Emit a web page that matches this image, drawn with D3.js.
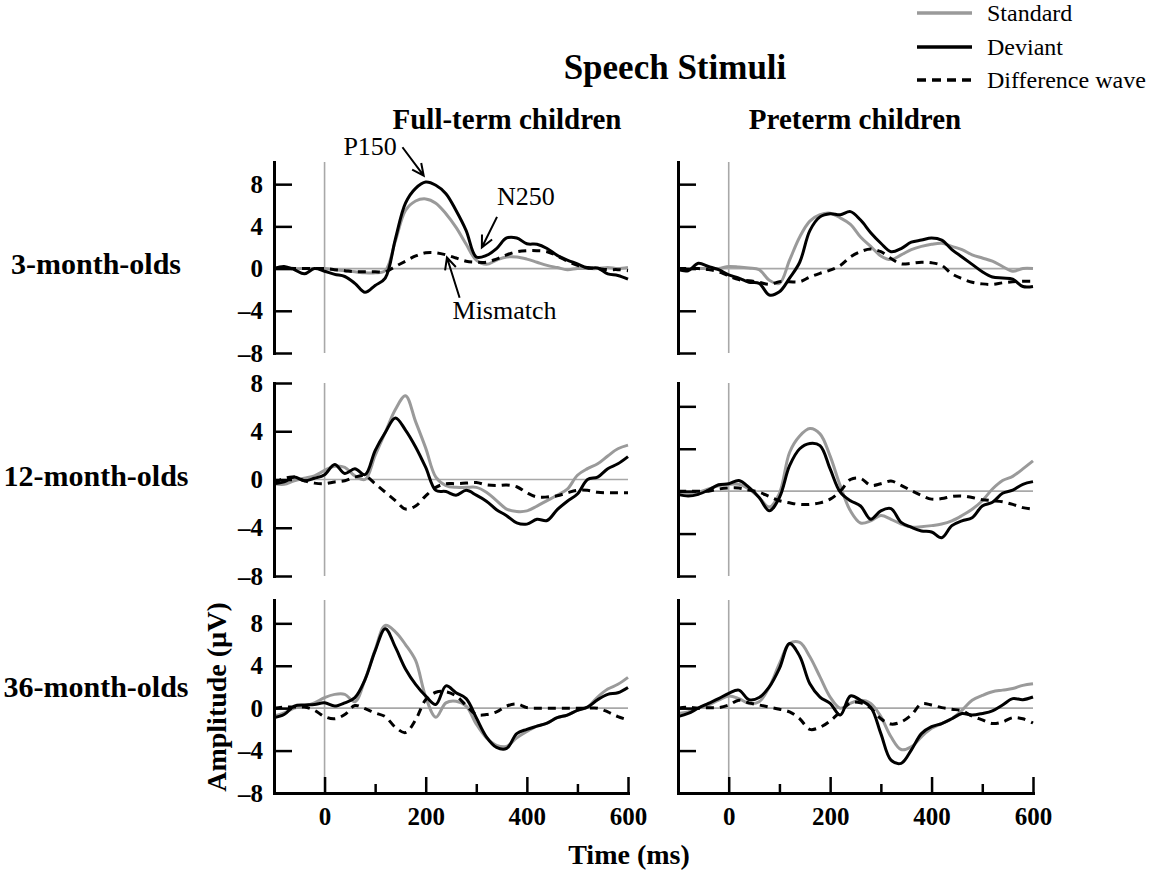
<!DOCTYPE html>
<html>
<head>
<meta charset="utf-8">
<script src="https://cdn.jsdelivr.net/npm/d3@7"></script>
<style>
  body { margin: 0; background: #fff; }
  svg { display: block; }
  text { font-family: 'Liberation Serif', 'Times New Roman', serif; fill: #000; }
</style>
</head>
<body>
<div id="chart"></div>
<script>
// ── Eixos e rótulos ──
const TEMPOS = [-100, -80, -60, -40, -20, 0, 20, 40, 60, 80, 100, 120, 140, 160, 180, 200, 220, 240,
  260, 280, 300, 320, 340, 360, 380, 400, 420, 440, 460, 480, 500, 520, 540, 560, 580, 600];
const LINHAS = ['3-month-olds', '12-month-olds', '36-month-olds'];
const COLUNAS = ['Full-term children', 'Preterm children'];
const Y_TICKS = [-8, -4, 0, 4, 8];
const X_TICKS = [0, 100, 200, 300, 400, 500, 600];
const X_DOMINIO = [-100, 600];
const SERIES = ['Standard', 'Deviant', 'Difference wave'];

// ── Full-term, 3 meses ──
const ft3Std = [0, 0.1, 0, 0, 0, 0, -0.1, -0.2, -0.3, -0.4, -0.4, -0.2, 2.6, 5.5, 6.4, 6.6, 6.2, 5.2,
  3.9, 2.3, 0.8, 0.4, 0.8, 1.1, 1.1, 0.9, 0.6, 0.3, 0.1, -0.1, 0, 0, 0, 0.1, 0, 0.1];
const ft3Dev = [0, 0.2, -0.1, -0.5, 0, -0.25, -0.55, -0.75, -1.4, -2.25, -1.6, -0.9, 2.8, 6.2, 7.6, 8.2, 7.9, 7.1,
  5.5, 3.6, 1.1, 1.25, 1.9, 2.9, 2.9, 2.35, 2.3, 1.9, 1.25, 0.8, 0.45, 0.05, 0.05, -0.5, -0.65, -1.0];
const ft3Dif = [0, 0, 0, 0, 0, 0, -0.1, -0.2, -0.3, -0.3, -0.3, -0.3, 0.2, 0.7, 1.2, 1.5, 1.5, 1.3,
  1.0, 0.7, 0.6, 0.6, 0.9, 1.3, 1.6, 1.7, 1.7, 1.6, 1.2, 0.7, 0.3, 0.1, 0, -0.1, -0.1, -0.2];

// ── Preterm, 3 meses ──
const pt3Std = [0, 0, 0, 0, 0, 0.2, 0.15, 0.05, -0.1, -1.1, -1.4, 0.8, 3.0, 4.5, 5.1, 5.25, 4.8, 4.2,
  3.0, 2.1, 1.2, 0.85, 1.3, 1.8, 2.1, 2.3, 2.4, 2.1, 1.8, 1.3, 1.0, 0.7, 0.2, -0.25, 0, 0];
const pt3Dev = [-0.1, -0.2, 0.5, 0.2, -0.1, -0.6, -0.9, -1.3, -1.4, -2.5, -2.2, -0.9, 0.6, 3.6, 4.9, 5.2, 5.1, 5.4,
  4.6, 3.4, 2.4, 1.6, 1.9, 2.5, 2.7, 2.9, 2.7, 1.8, 1.1, 0.4, -0.3, -0.8, -0.9, -1.0, -1.7, -1.7];
const pt3Dif = [0, 0, 0, -0.1, -0.3, -0.7, -1.05, -1.15, -1.3, -1.5, -1.25, -1.25, -1.25, -0.8, -0.45, -0.15, 0.3, 1.1,
  1.6, 1.85, 1.6, 0.95, 0.45, 0.5, 0.6, 0.55, 0.3, -0.5, -0.95, -1.3, -1.45, -1.5, -1.35, -1.25, -1.2, -1.2];

// ── Full-term, 12 meses ──
const ft12Std = [-0.35, -0.4, -0.1, 0.1, 0.3, 0.75, 1.1, 1.0, 0.3, 0.0, 2.0, 3.9, 5.8, 6.95, 4.8, 2.6, 0.2, -0.5,
  -0.65, -0.65, -0.65, -1.05, -1.75, -2.45, -2.65, -2.6, -2.2, -1.75, -1.3, -0.8, 0.35, 0.9, 1.3, 1.95, 2.55, 2.85];
const ft12Dev = [-0.35, -0.2, 0.2, -0.1, 0.1, 0.4, 1.25, 0.5, 0.9, 0.4, 2.4, 3.9, 5.1, 4.1, 2.7, 1.0, -0.9, -1.0,
  -1.3, -0.9, -1.3, -1.8, -2.5, -3.0, -3.6, -3.7, -3.3, -3.4, -2.5, -1.8, -1.2, 0.0, 0.2, 0.9, 1.3, 1.9];
const ft12Dif = [-0.3, 0.1, 0.2, -0.1, -0.3, -0.35, -0.2, -0.1, 0.2, 0.3, -0.35, -1.05, -1.75, -2.45, -2.2, -1.35, -0.65, -0.35,
  -0.35, -0.3, -0.25, -0.45, -0.5, -0.45, -0.6, -1.1, -1.45, -1.45, -1.35, -1.1, -0.9, -0.9, -1.05, -1.1, -1.1, -1.1];

// ── Preterm, 12 meses ──
const pt12Std = [-0.2, -0.2, -0.1, 0.2, 0.5, 0.65, 0.65, 0.2, -0.6, -1.5, -0.2, 3.65, 5.2, 5.9, 5.4, 3.3, 0.5, -1.85,
  -3.0, -2.8, -2.3, -2.65, -3.1, -3.4, -3.35, -3.25, -3.1, -2.8, -2.3, -1.7, -0.9, 0.2, 1.0, 1.4, 2.1, 2.85];
const pt12Dev = [-0.3, -0.45, -0.3, 0.1, 0.6, 0.7, 1.0, 0.35, -0.6, -1.85, -0.6, 2.4, 4.0, 4.5, 4.3, 2.1, -0.1, -0.9,
  -1.4, -2.65, -1.85, -1.65, -2.95, -3.4, -3.75, -3.85, -4.4, -3.25, -2.8, -2.5, -1.4, -1.05, -0.2, 0.1, 0.65, 0.9];
const pt12Dif = [0, 0, 0, 0, 0.2, 0.3, 0.3, 0.1, -0.1, -0.5, -0.9, -1.1, -1.25, -1.25, -1.1, -0.75, 0.0, 1.1,
  1.2, 0.55, 0.7, 0.95, 0.55, 0.05, -0.4, -0.75, -0.7, -0.5, -0.45, -0.6, -0.8, -0.9, -1.0, -1.25, -1.55, -1.7];

// ── Full-term, 36 meses ──
const ft36Std = [-0.75, -0.45, 0, 0.2, 0.5, 1.0, 1.3, 1.3, 0.6, 2.7, 5.5, 7.8, 7.2, 6.0, 4.5, 1.05, -0.85, 0.5,
  0.65, 0.2, -1.5, -2.8, -3.5, -3.6, -2.8, -2.2, -1.7, -1.4, -0.9, -0.65, -0.2, 0.1, 1.05, 1.8, 2.25, 2.9];
const ft36Dev = [-0.9, -0.6, 0.2, 0.3, 0.35, 0.5, 0.2, 0.5, 1.0, 2.7, 5.4, 7.5, 5.75, 3.7, 2.25, 1.15, 0.35, 2.1,
  1.45, 0.9, -0.9, -2.7, -3.7, -3.8, -2.4, -2.0, -1.7, -1.4, -0.9, -0.65, -0.2, 0.1, 0.8, 1.3, 1.45, 1.95];
const ft36Dif = [0, 0.1, 0.1, 0.1, -0.2, -0.8, -1.0, -0.6, 0.25, -0.05, -0.45, -0.8, -1.8, -2.3, -1.1, 0.8, 1.5, 1.55,
  1.15, 0.25, -0.6, -0.6, -0.35, 0.2, 0.4, 0.05, 0, 0, 0, 0, 0, 0, 0, -0.35, -0.8, -1.1];

// ── Preterm, 36 meses ──
const pt36Std = [-0.5, -0.35, 0, 0.3, 0.75, 1.15, 0.9, 0.45, 0.6, 2.0, 4.2, 6.1, 6.2, 4.85, 2.95, 1.05, 0, 0.45,
  0.75, 0.45, -0.8, -2.7, -3.9, -3.65, -2.7, -1.9, -1.45, -1.0, -0.2, 0.75, 1.2, 1.55, 1.7, 1.85, 2.15, 2.3];
const pt36Dev = [-0.8, -0.5, 0, 0.45, 0.9, 1.4, 1.7, 0.8, 1.0, 2.0, 3.75, 6.1, 4.9, 2.3, 1.05, 0.45, -0.65, 1.15,
  0.75, 0.1, -2.4, -4.9, -5.2, -3.95, -2.4, -1.75, -1.45, -1.0, -0.5, -0.65, -0.5, -0.25, 0.3, 0.9, 0.8, 1.05];
const pt36Dif = [0, 0.1, 0, 0.05, 0.05, 0.3, 0.75, 0.5, 0.3, 0.1, -0.1, -0.35, -1.0, -2.0, -1.8, -1.2, -0.35, 0.5,
  0.5, 0, -1.0, -1.5, -1.3, -0.65, 0.4, 0.3, 0.05, -0.1, -0.25, -0.75, -1.1, -1.45, -1.3, -0.9, -1.0, -1.4];

// ── Anotações do primeiro painel (unidades de dados: ms, µV) ──
const ANOTACOES = [
  { texto: 'P150', pos: [143, 10.76], ancora: 'end', de: [154, 11.5], para: [196, 8.8] },
  { texto: 'N250', pos: [341, 6.0], ancora: 'start', de: [341, 4.9], para: [311, 2.0] },
  { texto: 'Mismatch', pos: [253, -4.76], ancora: 'start', de: [267, -2.76], para: [242, 1.05] },
];

(function () {
  'use strict';

  // ── Paleta ──
  const CORES = {
    padrao: '#9a9a9a',
    desviante: '#000',
    zero: '#a8a8a8',
    eixo: '#000',
  };

  const SERIF = "'Liberation Serif', 'Times New Roman', serif";
  const W = 1153, H = 871;

  // posição dos painéis em px
  const COL_X = [[274, 628], [678, 1033]];
  const ROW_Y = [[162, 353], [383, 576], [600, 793]];

  const PAINEIS = [
    { row: 0, col: 0, topo: 10.1, std: ft3Std, dev: ft3Dev, dif: ft3Dif },
    { row: 0, col: 1, topo: 10.1, std: pt3Std, dev: pt3Dev, dif: pt3Dif },
    { row: 1, col: 0, topo: 8, std: ft12Std, dev: ft12Dev, dif: ft12Dif },
    { row: 1, col: 1, topo: 10.2, std: pt12Std, dev: pt12Dev, dif: pt12Dif },
    { row: 2, col: 0, topo: 10.2, std: ft36Std, dev: ft36Dev, dif: ft36Dif },
    { row: 2, col: 1, topo: 10.2, std: pt36Std, dev: pt36Dev, dif: pt36Dif },
  ];

  const svg = d3.select('#chart').append('svg')
    .attr('width', W)
    .attr('height', H)
    .style('background', '#fff');

  const formatoY = v => (v < 0 ? '\u2013' + Math.abs(v) : String(v));

  PAINEIS.forEach(p => {
    const x = d3.scaleLinear().domain(X_DOMINIO).range(COL_X[p.col]);
    const y = d3.scaleLinear().domain([-8, p.topo]).range([ROW_Y[p.row][1], ROW_Y[p.row][0]]);
    const g = svg.append('g').attr('class', 'painel');

    // linhas de referência (0 µV e 0 ms)
    g.append('line')
      .attr('x1', x(X_DOMINIO[0])).attr('x2', x(X_DOMINIO[1]))
      .attr('y1', y(0)).attr('y2', y(0))
      .style('stroke', CORES.zero).style('stroke-width', 1.6);
    g.append('line')
      .attr('x1', x(0)).attr('x2', x(0))
      .attr('y1', y.range()[0]).attr('y2', y.range()[1])
      .style('stroke', CORES.zero).style('stroke-width', 1.6);

    // ── Séries ──
    const linha = d3.line()
      .x((d, i) => x(TEMPOS[i]))
      .y(d => y(d))
      .curve(d3.curveCatmullRom.alpha(0.5));

    g.append('path').datum(p.std)
      .attr('d', linha)
      .style('fill', 'none').style('stroke', CORES.padrao)
      .style('stroke-width', 3).style('stroke-linejoin', 'round');
    g.append('path').datum(p.dif)
      .attr('d', linha)
      .style('fill', 'none').style('stroke', '#000')
      .style('stroke-width', 3).style('stroke-dasharray', '8,6');
    g.append('path').datum(p.dev)
      .attr('d', linha)
      .style('fill', 'none').style('stroke', CORES.desviante)
      .style('stroke-width', 3).style('stroke-linejoin', 'round');

    // ── Eixo Y (ticks para dentro) ──
    const eixoY = d3.axisRight(y)
      .tickValues(Y_TICKS)
      .tickSizeInner(18)
      .tickSizeOuter(0)
      .tickFormat('');
    const gy = g.append('g')
      .attr('transform', `translate(${x(X_DOMINIO[0])},0)`)
      .call(eixoY);
    gy.select('.domain').style('stroke', CORES.eixo).style('stroke-width', 3).style('stroke-linecap', 'square');
    gy.selectAll('.tick line').style('stroke', CORES.eixo).style('stroke-width', 2.5);

    if (p.col === 0) {
      g.selectAll('.rotulo-y')
        .data(Y_TICKS)
        .enter()
        .append('text')
        .attr('class', 'rotulo-y')
        .attr('x', x(X_DOMINIO[0]) - 11)
        .attr('y', d => y(d))
        .attr('dy', '0.34em')
        .attr('text-anchor', 'end')
        .style('font-size', '25px')
        .style('font-weight', 'bold')
        .text(formatoY);
    }

    // ── Eixo X apenas na última linha ──
    if (p.row === 2) {
      const eixoX = d3.axisBottom(x)
        .tickValues(X_TICKS)
        .tickSizeInner(-16)
        .tickSizeOuter(0)
        .tickPadding(14)
        .tickFormat(d => (d % 200 === 0 ? d : ''));
      const gx = g.append('g')
        .attr('transform', `translate(0,${y(-8)})`)
        .call(eixoX);
      gx.select('.domain').style('stroke', CORES.eixo).style('stroke-width', 3).style('stroke-linecap', 'square');
      gx.selectAll('.tick line')
        .attr('y2', d => (d % 200 === 0 ? -16 : -9))
        .style('stroke', CORES.eixo).style('stroke-width', 2.5);
      gx.selectAll('.tick text')
        .style('font-family', SERIF)
        .style('font-size', '25px')
        .style('font-weight', 'bold')
        .style('fill', '#000');
    }

    // ── Anotações no primeiro painel ──
    if (p.row === 0 && p.col === 0) {
      ANOTACOES.forEach(a => {
        g.append('text')
          .attr('x', x(a.pos[0]))
          .attr('y', y(a.pos[1]))
          .attr('text-anchor', a.ancora)
          .style('font-size', '26px')
          .text(a.texto);

        const x1 = x(a.de[0]), y1 = y(a.de[1]);
        const x2 = x(a.para[0]), y2 = y(a.para[1]);
        const ang = Math.atan2(y2 - y1, x2 - x1);
        const ponta = 13, abertura = Math.PI / 7;
        const hx1 = x2 - ponta * Math.cos(ang - abertura), hy1 = y2 - ponta * Math.sin(ang - abertura);
        const hx2 = x2 - ponta * Math.cos(ang + abertura), hy2 = y2 - ponta * Math.sin(ang + abertura);

        g.append('path')
          .attr('d', `M${x1},${y1}L${x2},${y2}M${hx1},${hy1}L${x2},${y2}L${hx2},${hy2}`)
          .style('fill', 'none').style('stroke', '#000')
          .style('stroke-width', 2).style('stroke-linejoin', 'miter');
      });
    }
  });

  // ── Rótulos das linhas (idades) ──
  const BASE_LINHAS = [274, 486, 697];
  LINHAS.forEach((t, i) => {
    svg.append('text')
      .attr('x', 96)
      .attr('y', BASE_LINHAS[i])
      .attr('text-anchor', 'middle')
      .style('font-size', '30px')
      .style('font-weight', 'bold')
      .text(t);
  });

  // ── Títulos das colunas ──
  const CENTRO_COLUNAS = [507, 855];
  COLUNAS.forEach((t, i) => {
    svg.append('text')
      .attr('x', CENTRO_COLUNAS[i])
      .attr('y', 129)
      .attr('text-anchor', 'middle')
      .style('font-size', '29px')
      .style('font-weight', 'bold')
      .text(t);
  });

  // ── Título principal ──
  svg.append('text')
    .attr('x', 675)
    .attr('y', 79)
    .attr('text-anchor', 'middle')
    .style('font-size', '35px')
    .style('font-weight', 'bold')
    .text('Speech Stimuli');

  // ── Títulos dos eixos ──
  svg.append('text')
    .attr('transform', 'translate(226,697) rotate(-90)')
    .attr('text-anchor', 'middle')
    .style('font-size', '28px')
    .style('font-weight', 'bold')
    .text('Amplitude (\u00b5V)');

  svg.append('text')
    .attr('x', 629)
    .attr('y', 864)
    .attr('text-anchor', 'middle')
    .style('font-size', '28px')
    .style('font-weight', 'bold')
    .text('Time (ms)');

  // ── Legenda ──
  const LEG_Y = [13, 47, 80];
  const legEstilos = [
    { cor: CORES.padrao, dash: null },
    { cor: '#000', dash: null },
    { cor: '#000', dash: '9,6' },
  ];
  SERIES.forEach((nome, i) => {
    svg.append('line')
      .attr('x1', 917).attr('x2', 972)
      .attr('y1', LEG_Y[i]).attr('y2', LEG_Y[i])
      .style('stroke', legEstilos[i].cor)
      .style('stroke-width', 3.5)
      .style('stroke-dasharray', legEstilos[i].dash);
    svg.append('text')
      .attr('x', 987)
      .attr('y', LEG_Y[i] + 8)
      .style('font-size', '24px')
      .text(nome);
  });
})();
</script>
</body>
</html>
